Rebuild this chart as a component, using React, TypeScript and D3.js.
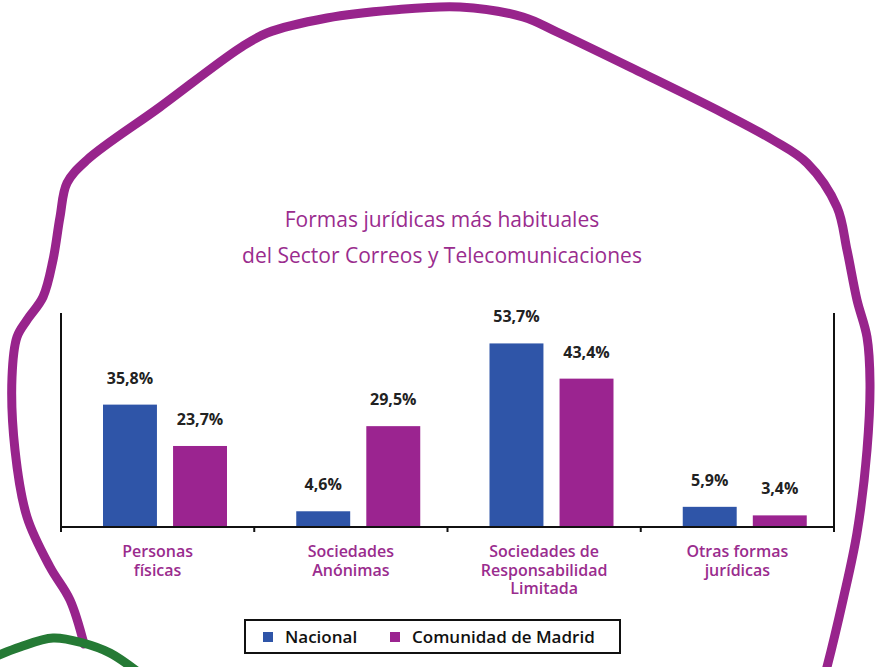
import React from "react";
import * as d3 from "d3";

const categories = [
  "Personas físicas",
  "Sociedades Anónimas",
  "Sociedades de Responsabilidad Limitada",
  "Otras formas jurídicas",
];
const categoryLines = [
  ["Personas", "físicas"],
  ["Sociedades", "Anónimas"],
  ["Sociedades de", "Responsabilidad", "Limitada"],
  ["Otras formas", "jurídicas"],
];
const seriesNames = ["Nacional", "Comunidad de Madrid"];
const nacional = [35.8, 4.6, 53.7, 5.9];
const madrid = [23.7, 29.5, 43.4, 3.4];
const titleLines = [
  "Formas jurídicas más habituales",
  "del Sector Correos y Telecomunicaciones",
];

// decorative hand-drawn outlines
const purpleOutline: [number, number][] = [
  [84, 644], [70, 600], [50, 567], [27, 517], [15, 450], [12, 377], [17, 337],
  [27, 320], [43, 297], [53, 260], [60, 217], [67, 183], [87, 160], [160, 107],
  [240, 48], [267, 33], [327, 18], [393, 10], [460, 7], [523, 17], [557, 32],
  [640, 72], [723, 113], [773, 140], [807, 163], [837, 207], [847, 250],
  [857, 300], [867, 337], [870, 383], [867, 450], [857, 533], [843, 600],
  [827, 667], [822, 685],
];
const greenOutline: [number, number][] = [
  [-8, 658], [20, 647], [53, 638], [83, 643], [110, 653], [138, 672],
];

const COLORS = { blue: "#2f55a8", purple: "#9b2490", outline: "#98248c", green: "#257a35", text: "#9a2c8e" };
const FONT = "'Open Sans', 'Noto Sans', sans-serif";

const locale = d3.formatLocale({ decimal: ",", thousands: ".", grouping: [3], currency: ["", "€"] });
const fmt = locale.format(".1f");

export default function App() {
  const W = 875, H = 667;
  const left = 61, right = 834, base = 527, top = 313;
  const x = d3.scaleBand<string>().domain(categories).range([left, right]).padding(0);
  const inner = d3.scaleBand<string>().domain(seriesNames).range([42, 166]).paddingInner(0.23);
  const y = d3.scaleLinear().domain([0, 62.6]).range([base, top]);
  const line = d3.line().curve(d3.curveCatmullRom.alpha(0.5));
  const series = [
    { name: seriesNames[0], values: nacional, color: COLORS.blue },
    { name: seriesNames[1], values: madrid, color: COLORS.purple },
  ];
  const ticks = [left, ...categories.slice(1).map((c) => x(c)!), right];

  return (
    <svg width={W} height={H} style={{ position: "fixed", left: 0, top: 0, background: "#fff" }} fontFamily={FONT}>
      <rect width={W} height={H} fill="#fff" />
      <path d={line(purpleOutline)!} fill="none" stroke={COLORS.outline} strokeWidth={9} strokeLinecap="round" strokeLinejoin="round" />
      <path d={line(greenOutline)!} fill="none" stroke={COLORS.green} strokeWidth={9} strokeLinecap="round" />

      {titleLines.map((t, i) => (
        <text key={i} x={442} y={227 + i * 36} textAnchor="middle" fontSize={21} fontWeight={500} fill={COLORS.text}>{t}</text>
      ))}

      {series.map((s) =>
        categories.map((c, i) => {
          const bx = x(c)! + inner(s.name)!;
          const by = y(s.values[i]);
          return (
            <g key={s.name + c}>
              <rect x={bx} y={by} width={inner.bandwidth()} height={base - by} fill={s.color} />
              <text x={bx + inner.bandwidth() / 2} y={by - 21} textAnchor="middle" fontSize={16} fontWeight={700} fill="#222">
                {fmt(s.values[i]) + "%"}
              </text>
            </g>
          );
        })
      )}

      {/* axes */}
      <line x1={left} x2={left} y1={top} y2={base + 2} stroke="#111" strokeWidth={2} />
      <line x1={right} x2={right} y1={top} y2={base + 2} stroke="#111" strokeWidth={2} />
      <line x1={left - 1} x2={right + 1} y1={base} y2={base} stroke="#111" strokeWidth={2} />
      {ticks.map((t, i) => (
        <line key={i} x1={t} x2={t} y1={base} y2={base + 5} stroke="#111" strokeWidth={2} />
      ))}

      {categoryLines.map((lines, i) =>
        lines.map((l, j) => (
          <text key={i + "-" + j} x={x(categories[i])! + x.bandwidth() / 2} y={557 + j * 18.5} textAnchor="middle" fontSize={16} fontWeight={600} fill={COLORS.text}>
            {l}
          </text>
        ))
      )}

      {/* legend */}
      <g>
        <rect x={245} y={620} width={375} height={33} fill="#fff" stroke="#111" strokeWidth={2} />
        <rect x={263} y={632} width={10} height={10} fill={COLORS.blue} />
        <text x={285} y={643} fontSize={17} fontWeight={600} fill="#111">{seriesNames[0]}</text>
        <rect x={390} y={632} width={10} height={10} fill={COLORS.purple} />
        <text x={412} y={643} fontSize={17} fontWeight={600} fill="#111">{seriesNames[1]}</text>
      </g>
    </svg>
  );
}
